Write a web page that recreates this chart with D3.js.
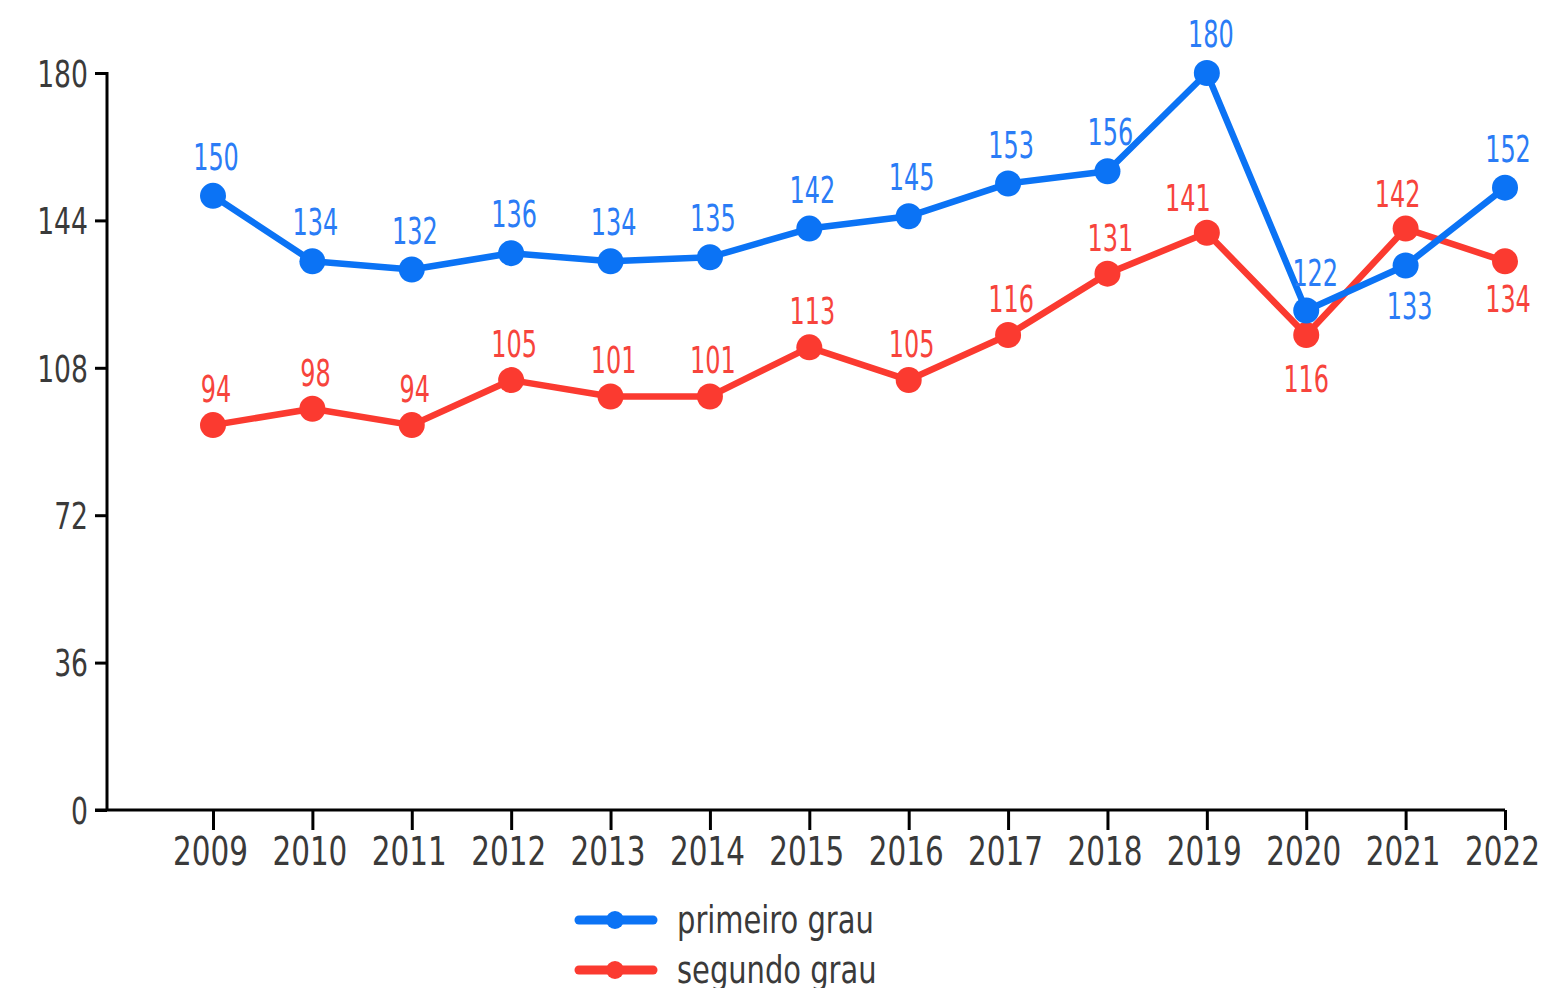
<!DOCTYPE html>
<html>
<head>
<meta charset="utf-8">
<script src="https://cdn.jsdelivr.net/npm/d3@7"></script>
<style>
  body { margin: 0; background: #fff; }
  text { font-family: "DejaVu Sans", sans-serif; font-stretch: condensed; }
</style>
</head>
<body>
<svg class="chart-svg"></svg>
<script>
// data
const years = [2009, 2010, 2011, 2012, 2013, 2014, 2015, 2016, 2017, 2018, 2019, 2020, 2021, 2022]
const primeiro = [150, 134, 132, 136, 134, 135, 142, 145, 153, 156, 180, 122, 133, 152]
const segundo = [94, 98, 94, 105, 101, 101, 113, 105, 116, 131, 141, 116, 142, 134]
const yTicks = [0, 36, 72, 108, 144, 180]
const seriesNames = ["primeiro grau", "segundo grau"]

const width = 1544, height = 988
const blue = "#0b73f5", red = "#fb3a30"
const blueText = "#2a7cf6", redText = "#f7443c"
const axisText = "#3a3a3a"

const svg = d3.select(".chart-svg").attr("width", width).attr("height", height)

const x = d3.scaleLinear().domain([2009, 2022]).range([213, 1505])
const y = d3.scaleLinear().domain([0, 180]).range([810, 73])

// squeeze text horizontally, the source font is a narrow one
function squeeze(sel, k) {
  sel.each(function() {
    const t = d3.select(this)
    const tx = +t.attr("x") || 0, ty = +t.attr("y") || 0
    t.attr("transform", `translate(${tx},${ty}) scale(${k},1)`).attr("x", 0).attr("y", 0)
  })
}

// axes
const yAxis = svg.append("g")
  .attr("transform", "translate(107,0)")
  .call(d3.axisLeft(y).tickValues(yTicks).tickSize(12).tickPadding(7))
yAxis.select(".domain").remove()
yAxis.append("line").attr("x1", 0).attr("x2", 0).attr("y1", y(180) - 1).attr("y2", y(0)).attr("stroke", "#000").attr("stroke-width", 3)
yAxis.selectAll(".tick line").attr("stroke", "#000").attr("stroke-width", 3)
yAxis.selectAll(".tick text").attr("font-size", 37).attr("fill", axisText).attr("dy", "0.36em")
  .call(squeeze, 0.8)

const xAxis = svg.append("g")
  .attr("transform", "translate(0,810)")
  .call(d3.axisBottom(x).tickValues(years).tickFormat(d3.format("d")).tickSize(20).tickPadding(6))
xAxis.select(".domain").remove()
xAxis.append("line").attr("x1", 95).attr("x2", x(2022)).attr("y1", 0).attr("y2", 0).attr("stroke", "#000").attr("stroke-width", 3)
xAxis.selectAll(".tick line").attr("stroke", "#000").attr("stroke-width", 3)
xAxis.selectAll(".tick text").attr("font-size", 39).attr("fill", axisText)
  .attr("dy", "0.74em").attr("x", -3)
  .call(squeeze, 0.84)

// label placement tweaks (index -> [dx, dy])
const blueLabelPos = { 10: [4, -26], 11: [9, -24], 12: [4, 54] }
const redLabelPos = { 10: [-19, -22], 11: [0, 57], 12: [-8, -22], 13: [3, 51] }

const line = d3.line().x((d, i) => x(years[i])).y(d => y(d))

function drawSeries(vals, color) {
  const g = svg.append("g")
  g.append("path").datum(vals)
    .attr("d", line).attr("fill", "none").attr("stroke", color)
    .attr("stroke-width", 6.5).attr("stroke-linejoin", "round")
  g.selectAll("circle").data(vals).enter().append("circle")
    .attr("cx", (d, i) => x(years[i])).attr("cy", d => y(d)).attr("r", 13).attr("fill", color)
}

function drawLabels(vals, textColor, pos, defDy) {
  svg.append("g").selectAll("text").data(vals).enter().append("text")
    .attr("x", (d, i) => x(years[i]) + (pos[i] ? pos[i][0] : 3))
    .attr("y", (d, i) => y(d) + (pos[i] ? pos[i][1] : defDy))
    .attr("text-anchor", "middle")
    .attr("font-size", 37)
    .attr("fill", textColor)
    .text(d => d)
    .call(squeeze, 0.72)
}

drawSeries(segundo, red)
drawSeries(primeiro, blue)
drawLabels(primeiro, blueText, blueLabelPos, -26)
drawLabels(segundo, redText, redLabelPos, -23)

// legend
const legend = svg.append("g")
const legColors = [blue, red]
seriesNames.forEach((name, i) => {
  const ly = 920 + i * 50
  legend.append("line").attr("x1", 579).attr("x2", 653).attr("y1", ly).attr("y2", ly)
    .attr("stroke", legColors[i]).attr("stroke-width", 9).attr("stroke-linecap", "round")
  legend.append("circle").attr("cx", 615).attr("cy", ly).attr("r", 9).attr("fill", legColors[i])
  legend.append("text").attr("x", 677).attr("y", ly).attr("dy", "0.35em")
    .attr("font-size", 37).attr("fill", axisText).text(name)
    .call(squeeze, 0.87)
})
</script>
</body>
</html>
